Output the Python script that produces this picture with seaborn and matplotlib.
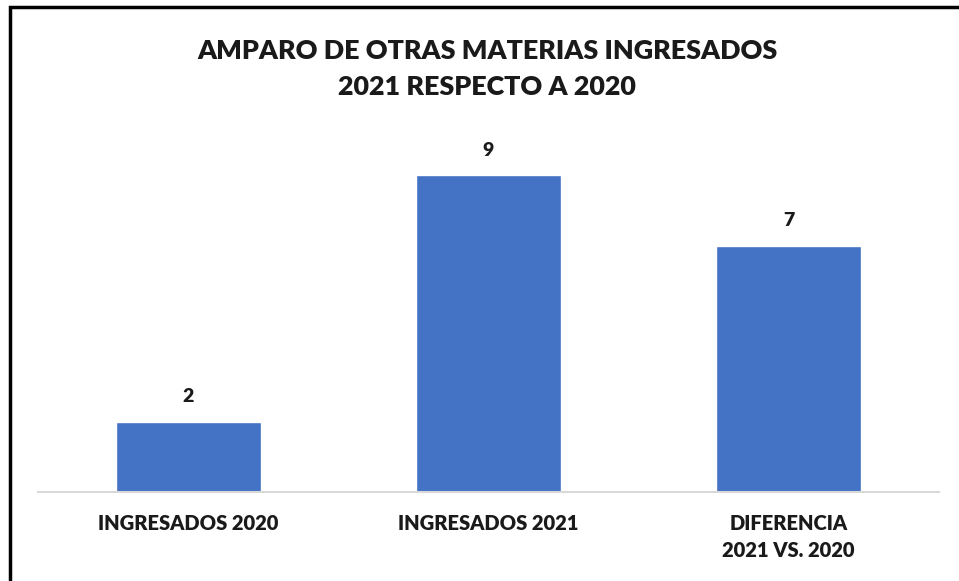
import matplotlib.pyplot as plt
import matplotlib.patches as mpatches
import seaborn as sns
import pandas as pd

categorias = ["INGRESADOS 2020", "INGRESADOS 2021", "DIFERENCIA\n2021 VS. 2020"]
valores = [2, 9, 7]
titulo = "AMPARO DE OTRAS MATERIAS INGRESADOS\n2021 RESPECTO A 2020"

sns.set_style("white")
plt.rcParams['font.family'] = ['Lato', 'DejaVu Sans']

df = pd.DataFrame({"cat": categorias, "val": valores})

fig = plt.figure(figsize=(9.59, 5.81), dpi=100)
ax = fig.add_axes([0.0396, 0.1532, 0.9394, 0.6058])
sns.barplot(data=df, x="cat", y="val", color="#4472C4", width=0.483,
            saturation=1, ax=ax)

ax.set_xlim(-0.5, 2.5)
ax.set_ylim(0, 10)
ax.set_xlabel("")
ax.set_ylabel("")
ax.set_yticks([])
for s in ["top", "right", "left"]:
    ax.spines[s].set_visible(False)
ax.spines["bottom"].set_color("#d9d9d9")
ax.spines["bottom"].set_linewidth(1.5)
ax.tick_params(axis="x", length=0, pad=16)
for lbl in ax.get_xticklabels():
    lbl.set_fontsize(14.5)
    lbl.set_fontweight("heavy")
    lbl.set_color("#1a1a1a")
    lbl.set_verticalalignment("top")
    lbl.set_linespacing(1.5)

for c in ax.containers:
    ax.bar_label(c, fmt="%d", padding=12, fontsize=14, fontweight="heavy",
                 color="#1a1a1a")

fig.text(0.508, 0.933, titulo, ha="center", va="top", fontsize=19.4,
         fontweight="heavy", color="#1a1a1a", linespacing=1.58)

# marco de la imagen
fig.patches.append(mpatches.Rectangle((9.5 / 959, -0.05), 1.2, 1.05 - 7.5 / 581,
                                      transform=fig.transFigure, fill=False,
                                      edgecolor="black", linewidth=2.5))

fig.savefig("out.png", dpi=100)
